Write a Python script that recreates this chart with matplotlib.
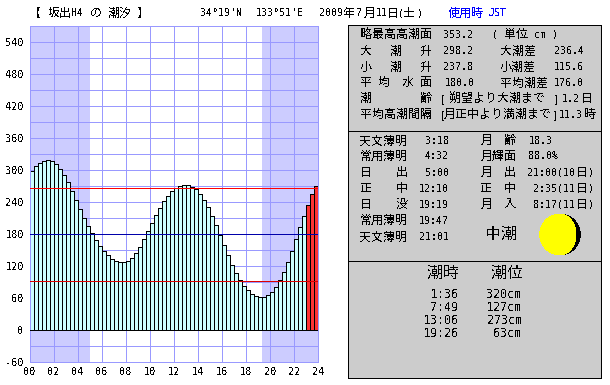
import matplotlib
matplotlib.use('Agg')
import matplotlib.pyplot as plt
from matplotlib.patches import Rectangle, Circle, Ellipse, Wedge

plt.rcParams['text.antialiased'] = False

tide = [299, 308, 313, 317, 319, 317, 312, 302, 291, 277, 261, 244,
        227, 210, 195, 182, 169, 157, 148, 141, 133, 130, 127, 127,
        129, 135, 144, 156, 171, 186, 200, 216, 229, 242, 251, 261,
        266, 270, 272, 272, 268, 264, 255, 244, 231, 214, 197, 178,
        159, 141, 122, 107, 94, 82, 75, 67, 64, 62, 62, 66,
        71, 81, 94, 109, 127, 148, 171, 193, 214, 234, 255, 270]
current_start = 69
night_spans = [(0, 5.0), (19.32, 24)]
ref_lines = [(267, '#ff0000'), (180, '#0000aa'), (92, '#dd0000')]
y_ticks = [-60, 0, 60, 120, 180, 240, 300, 360, 420, 480, 540]
x_ticks = list(range(0, 25, 2))

JP = 'Noto Sans CJK JP'
MONO = 'DejaVu Sans Mono'
GRID = '#9999ff'
LW = 0.5

fig = plt.figure(figsize=(6.1, 3.85), dpi=100, facecolor='white')
W, H = 610, 385
L, R, T, B = 30.0, 318.0, 26.0, 362.0
ax = fig.add_axes([L / W, 1 - B / H, (R - L) / W, (B - T) / H])
ax.set_xlim(0, 24)
ax.set_ylim(-60, 570)
for a, b in night_spans:
    ax.axvspan(a, b, color='#ccccff', lw=0, zorder=0)
ax.set_axisbelow(True)
ax.set_xticks(x_ticks)
ax.set_xticklabels([f'{v:02d}' for v in x_ticks], family=MONO, fontsize=7.4)
ax.set_yticks(y_ticks)
ax.set_yticklabels([str(v) for v in y_ticks], family=MONO, fontsize=7.4)
ax.set_yticks(list(range(-30, 570, 60)), minor=True)
ax.tick_params(which='both', length=0)
ax.tick_params(axis='y', pad=4.5)
ax.tick_params(axis='x', pad=3.5)
ax.grid(True, which='both', color=GRID, lw=LW, antialiased=False)
for s in ax.spines.values():
    s.set_color(GRID)
    s.set_linewidth(LW)
    s.set_antialiased(False)

xs = [(i + 0.5) / 3 for i in range(len(tide))]
colors = ['#ccffff' if i < current_start else '#ff3333' for i in range(len(tide))]
ax.bar(xs, tide, width=1 / 3, color=colors, edgecolor='black', linewidth=LW,
       zorder=2, antialiased=False)
ax.axhline(0, color='black', lw=LW, zorder=3, antialiased=False)
for v, c in ref_lines:
    ax.axhline(v, color=c, lw=LW, zorder=4, antialiased=False)

ov = fig.add_axes([0, 0, 1, 1], zorder=5)
ov.set_xlim(0, W)
ov.set_ylim(H, 0)
ov.axis('off')
ov.patch.set_alpha(0)


def jp(x, y, s, size=12, color='black', ha='left'):
    ov.text(x, y, s, family=JP, fontsize=size * 0.72, color=color, ha=ha, va='center')


def mono(x, y, s, size=10, color='black', ha='left'):
    ov.text(x, y, s, family=MONO, fontsize=size * 0.72, color=color, ha=ha, va='center')


# Title row
ty = 13.3
for x, s in [(29, '【'), (47.7, '坂出'), (90, 'の'), (107.3, '潮汐'), (136.7, '】'),
             (343.3, '年'), (364, '月'), (387, '日'), (403, '土')]:
    jp(x, ty, s)
for x, s in [(71.7, 'H4'), (200, "34°19'N"), (255.7, "133°51'E"), (319.3, '2009'),
             (356, '7'), (376, '11'), (398, '('), (417, ')')]:
    mono(x, ty, s)
jp(447.3, ty, '使用時', color='#0000ff')
mono(489, ty, 'JST', color='#0000ff')

# Panels
px0, px1, py0, py1, py2, py3 = 347.5, 600.5, 24.5, 130.5, 260.5, 377.5
ov.add_patch(Rectangle((px0, py0), px1 - px0, py3 - py0, fc='#cccccc', ec='black', lw=LW,
                       antialiased=False))
ov.plot([px0, px1], [py1, py1], color='black', lw=LW, antialiased=False)
ov.plot([px0, px1], [py2, py2], color='black', lw=LW, antialiased=False)

# Panel 1
r = [34.7, 51, 67, 82.7, 98.7, 114.7]
jp(360, r[0], '略最高高潮面')
mono(443.3, r[0], '353.2')
mono(491.7, r[0], '(')
jp(504, r[0], '単位')
mono(534, r[0], 'cm')
mono(552.7, r[0], ')')
for i, (a, v1, b, v2) in enumerate([('大', '298.2', '大潮差', '236.4'), ('小', '237.8', '小潮差', '115.6')]):
    y = r[1 + i]
    jp(360, y, a)
    jp(390, y, '潮')
    jp(420, y, '升')
    mono(443.3, y, v1)
    jp(500, y, b)
    mono(554, y, v2)
for x, s in [(360, '平'), (377.7, '均'), (401.7, '水'), (420, '面'), (500, '平均潮差')]:
    jp(x, r[3], s)
mono(444.3, r[3], '180.0')
mono(554, r[3], '176.0')
jp(360, r[4], '潮')
jp(420, r[4], '齢')
mono(439.3, r[4], '[')
jp(449.3, r[4], '朔望より大潮まで')
mono(553, r[4], ']')
mono(561.5, r[4], '1.2')
jp(581, r[4], '日')
jp(360, r[5], '平均高潮間隔')
mono(439.3, r[5], '[')
jp(444, r[5], '月正中より満潮まで')
mono(552.5, r[5], ']')
mono(558.3, r[5], '11.3')
jp(584.3, r[5], '時')

# Panel 2
q = [140.7, 156.3, 172.7, 188.7, 204.7, 220.7, 236.7]
left2 = [('天文薄明', None, '3:18'), ('常用薄明', None, '4:32'), ('日', '出', '5:00'),
         ('正', '中', '12:10'), ('日', '没', '19:19'), ('常用薄明', None, '19:47'),
         ('天文薄明', None, '21:01')]
for y, (a, b, t) in zip(q, left2):
    jp(360, y, a)
    if b:
        jp(396, y, b)
    mono(449, y, t, ha='right')
jp(480.7, q[0], '月')
jp(504, q[0], '齢')
mono(528.3, q[0], '18.3')
jp(480.7, q[1], '月輝面')
mono(528.3, q[1], '88.0%')
for y, a, b, t, x in [(q[2], '月', '出', '21:00(10', 527.7), (q[3], '正', '中', '2:35(11', 533.7),
                      (q[4], '月', '入', '8:17(11', 533.7)]:
    jp(480.7, y, a)
    jp(504, y, b)
    mono(x, y, t)
    jp(576, y, '日')
    mono(588, y, ')')
jp(485.3, 234, '中潮', size=16)

# Moon
mx, my, mr = 560, 234.5, 20.3
ov.add_patch(Circle((mx, my), mr, fc='#ffff00', ec='none', antialiased=False))
ov.add_patch(Wedge((mx, my), mr, -90, 90, fc='black', ec='none', antialiased=False))
ov.add_patch(Ellipse((mx, my), 32, 2 * mr, fc='#ffff00', ec='none', antialiased=False))

# Panel 3
jp(427.7, 273.3, '潮時', size=16)
jp(491.7, 273.3, '潮位', size=16)
tide_times = ['1:36', '7:49', '13:06', '19:26']
tide_levels = ['320cm', '127cm', '273cm', '63cm']
for y, t, l in zip([294.3, 307.3, 320, 333.3], tide_times, tide_levels):
    mono(458.3, y, t, size=11.6, ha='right')
    mono(521.7, y, l, size=11.6, ha='right')

fig.savefig('out.png', dpi=100)
